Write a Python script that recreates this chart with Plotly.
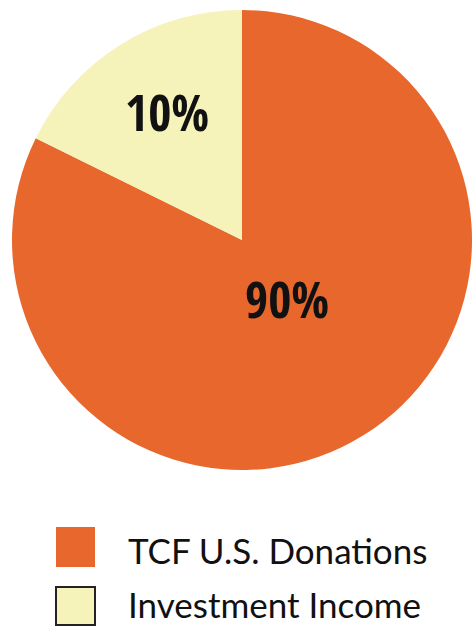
import plotly.graph_objects as go

categories = ["TCF U.S. Donations", "Investment Income"]
slice_values = [82.3, 17.7]          # slice sizes as drawn in the picture
slice_labels = ["90%", "10%"]        # printed labels
colors = ["#E8672C", "#F5F2BA"]

W, H = 473, 626
fig = go.Figure()
fig.add_trace(go.Pie(
    labels=categories,
    values=slice_values,
    text=slice_labels,
    textinfo="none",
    marker=dict(colors=colors, line=dict(width=0)),
    sort=False,
    direction="clockwise",
    rotation=0,
    showlegend=False,
    hoverinfo="label+text",
    domain=dict(x=[12/W, 472/W], y=[1-470/H, 1-10/H]),
))

# slice labels (placed in pixel-derived paper coords)
label_pos = [(287, 299), (167, 112)]
for (px, py), t in zip(label_pos, slice_labels):
    fig.add_annotation(xref="paper", yref="paper", x=px/W, y=1-py/H,
                       xanchor="center", yanchor="middle", showarrow=False, text="<b>%s</b>" % t,
                       font=dict(family="Open Sans Condensed", size=50, color="#111111"))

# manual legend
legend_rows = [(527, 567, 550, colors[0], None), (587, 625, 604, colors[1], "#222222")]
for (y0, y1, yt, c, lc), name in zip(legend_rows, categories):
    fig.add_shape(type="rect", xref="paper", yref="paper",
                  x0=56/W, x1=95/W, y0=1-y1/H, y1=1-y0/H,
                  fillcolor=c, line=dict(color=lc or c, width=2 if lc else 0))
    fig.add_annotation(xref="paper", yref="paper", x=126/W, y=1-yt/H,
                       xanchor="left", yanchor="middle", showarrow=False, text=name,
                       font=dict(family="Lato", size=35, color="#111111"))

fig.update_layout(
    width=W, height=H,
    margin=dict(l=0, r=0, t=0, b=0),
    paper_bgcolor="white", plot_bgcolor="white",
)
fig.write_html("out.html", config={"displayModeBar": False},
               post_script="document.body.style.margin='0';document.body.style.overflow='hidden';")
